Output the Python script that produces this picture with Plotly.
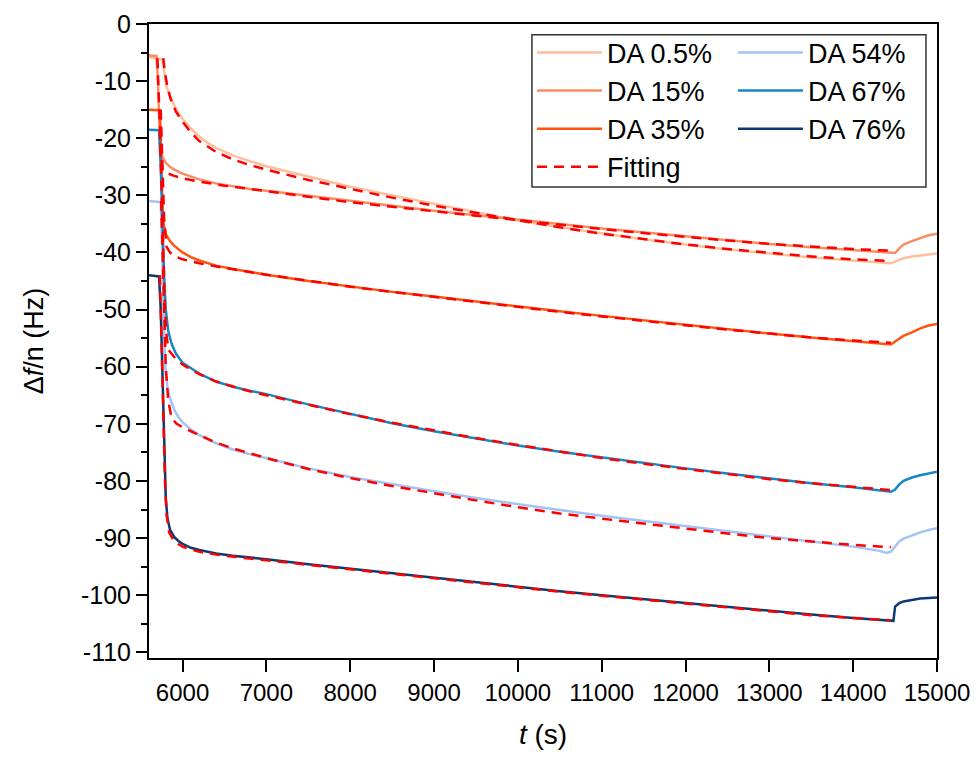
import plotly.graph_objects as go

# ---------------- data ----------------
t_05 = [5600, 5700, 5760, 5775, 5790, 5810, 5850, 5900, 5950, 6000, 6100, 6200, 6300, 6400, 6600, 6800,
        7000, 7500, 8000, 8500, 9000, 9500, 10000, 10500, 11000, 11500, 12000, 12500, 13000, 13500,
        14000, 14300, 14450, 14500, 14600, 14700, 14800, 15000]
y_05 = [-5.8, -6.0, -6.2, -7.5, -9.5, -11.0, -12.8, -14.3, -15.6, -16.6, -18.3, -19.7, -20.8, -21.7, -23.0, -24.0,
        -24.9, -26.7, -28.5, -30.0, -31.5, -33.0, -34.4, -35.6, -36.7, -37.7, -38.6, -39.5, -40.2, -40.9,
        -41.4, -41.7, -41.9, -41.6, -41.0, -40.7, -40.5, -40.2]

t_15 = [5600, 5690, 5700, 5710, 5720, 5735, 5760, 5800, 5850, 5900, 6000, 6200, 6400, 6600, 6800, 7000,
        7500, 8000, 8500, 9000, 9500, 10000, 10500, 11000, 11500, 12000, 12500, 13000, 13500, 14000,
        14300, 14500, 14550, 14600, 14700, 14800, 14900, 15000]
y_15 = [-5.5, -5.6, -8.0, -13.0, -18.0, -21.5, -23.3, -24.3, -25.0, -25.5, -26.2, -27.2, -27.9, -28.4, -28.9, -29.2,
        -30.1, -30.9, -31.8, -32.7, -33.5, -34.2, -35.0, -35.8, -36.5, -37.2, -37.9, -38.5, -39.1, -39.6,
        -39.9, -40.1, -39.3, -38.6, -38.0, -37.5, -37.0, -36.7]

t_35 = [5600, 5730, 5740, 5750, 5760, 5775, 5800, 5850, 5900, 6000, 6100, 6200, 6400, 6600, 6800, 7000,
        7500, 8000, 8500, 9000, 9500, 10000, 10500, 11000, 11500, 12000, 12500, 13000, 13500, 14000,
        14300, 14450, 14500, 14600, 14700, 14800, 14900, 15000]
y_35 = [-15.0, -15.1, -20.0, -27.0, -32.0, -35.0, -36.8, -38.0, -38.8, -40.0, -40.8, -41.4, -42.3, -42.9, -43.4, -43.9,
        -45.0, -46.0, -46.9, -47.7, -48.6, -49.5, -50.3, -51.1, -51.9, -52.7, -53.5, -54.2, -54.9, -55.5,
        -55.9, -56.1, -55.6, -54.6, -54.0, -53.3, -52.8, -52.5]

t_54 = [5600, 5740, 5755, 5770, 5785, 5800, 5820, 5850, 5900, 5950, 6000, 6100, 6200, 6400, 6600, 6800,
        7000, 7500, 8000, 8500, 9000, 9500, 10000, 10500, 11000, 11500, 12000, 12500, 13000, 13500,
        14000, 14300, 14400, 14450, 14500, 14550, 14600, 14700, 14800, 14900, 15000]
y_54 = [-31.0, -31.2, -38.0, -48.0, -57.0, -61.0, -63.5, -65.5, -67.5, -68.8, -69.7, -71.0, -72.0, -73.4, -74.5, -75.3,
        -76.0, -77.8, -79.3, -80.6, -81.8, -83.0, -84.1, -85.1, -86.1, -87.0, -87.9, -88.8, -89.7, -90.6,
        -91.5, -92.2, -92.6, -92.4, -91.5, -90.6, -90.1, -89.5, -89.0, -88.6, -88.3]

t_67 = [5600, 5720, 5740, 5760, 5780, 5800, 5830, 5870, 5920, 6000, 6100, 6200, 6400, 6600, 6800, 7000,
        7500, 8000, 8500, 9000, 9500, 10000, 10500, 11000, 11500, 12000, 12500, 13000, 13500, 14000,
        14300, 14450, 14500, 14550, 14600, 14700, 14800, 14900, 15000]
y_67 = [-18.5, -18.6, -25.0, -35.0, -44.0, -50.0, -53.8, -56.0, -57.7, -59.3, -60.3, -61.2, -62.6, -63.5, -64.2, -64.8,
        -66.6, -68.3, -69.9, -71.3, -72.6, -73.8, -74.9, -75.9, -76.9, -77.8, -78.7, -79.6, -80.4, -81.1,
        -81.6, -81.9, -81.5, -80.6, -80.0, -79.4, -79.0, -78.7, -78.4]

t_76 = [5600, 5720, 5740, 5760, 5780, 5800, 5820, 5850, 5900, 5950, 6000, 6100, 6200, 6400, 6600, 6800,
        7000, 7500, 8000, 8500, 9000, 9500, 10000, 10500, 11000, 11500, 12000, 12500, 13000, 13500,
        14000, 14300, 14480, 14500, 14550, 14600, 14700, 14800, 14900, 15000]
y_76 = [-44.0, -44.2, -50.0, -62.0, -75.0, -83.0, -86.5, -88.5, -89.8, -90.5, -91.0, -91.7, -92.1, -92.7, -93.1, -93.4,
        -93.7, -94.6, -95.4, -96.2, -97.0, -97.8, -98.5, -99.3, -100.0, -100.7, -101.4, -102.1, -102.8, -103.4,
        -104.0, -104.3, -104.5, -102.0, -101.4, -101.1, -100.8, -100.6, -100.5, -100.4]

# fitting curves
tf_05 = [5770, 5790, 5820, 5860, 5920, 6000, 6100, 6200, 6400, 6600, 6800, 7000, 7500, 8000, 8500, 9000,
         9500, 10000, 10500, 11000, 11500, 12000, 12500, 13000, 13500, 14000, 14450]
yf_05 = [-6.0, -8.5, -11.0, -13.2, -15.3, -17.1, -19.0, -20.5, -22.4, -23.7, -24.7, -25.5, -27.3, -28.9, -30.4, -31.8,
         -33.1, -34.4, -35.6, -36.7, -37.7, -38.6, -39.4, -40.1, -40.7, -41.2, -41.5]

tf_15 = [5700, 5720, 5740, 5760, 5800, 5850, 5900, 6000, 6200, 6500, 7000, 7500, 8000, 8500, 9000, 9500,
         10000, 10500, 11000, 11500, 12000, 12500, 13000, 13500, 14000, 14450]
yf_15 = [-6.0, -14.0, -22.0, -25.5, -26.0, -26.3, -26.6, -27.0, -27.6, -28.3, -29.3, -30.3, -31.2, -32.0, -32.8, -33.6,
         -34.4, -35.2, -35.9, -36.6, -37.3, -37.9, -38.5, -39.0, -39.4, -39.7]

tf_35 = [5740, 5760, 5780, 5810, 5850, 5900, 6000, 6200, 6500, 7000, 7500, 8000, 8500, 9000, 9500, 10000,
         10500, 11000, 11500, 12000, 12500, 13000, 13500, 14000, 14450]
yf_35 = [-15.0, -25.0, -34.0, -39.0, -40.0, -40.6, -41.2, -41.9, -42.7, -43.9, -45.0, -46.0, -46.9, -47.8, -48.7, -49.6,
         -50.4, -51.2, -52.0, -52.8, -53.5, -54.2, -54.9, -55.4, -55.8]

tf_54 = [5745, 5760, 5780, 5800, 5830, 5870, 5930, 6000, 6100, 6200, 6400, 6600, 6800, 7000, 7500, 8000,
         8500, 9000, 9500, 10000, 10500, 11000, 11500, 12000, 12500, 13000, 13500, 14000, 14450]
yf_54 = [-31.0, -40.0, -52.0, -60.0, -66.0, -69.0, -70.0, -70.6, -71.3, -72.0, -73.3, -74.3, -75.2, -76.0, -77.9, -79.5,
         -80.9, -82.2, -83.4, -84.6, -85.7, -86.6, -87.5, -88.3, -89.2, -90.0, -90.6, -91.2, -91.6]

tf_67 = [5730, 5750, 5770, 5790, 5810, 5830, 5900, 6000, 6100, 6200, 6400, 6600, 6800, 7000, 7500, 8000,
         8500, 9000, 9500, 10000, 10500, 11000, 11500, 12000, 12500, 13000, 13500, 14000, 14450]
yf_67 = [-18.5, -30.0, -42.0, -50.0, -54.5, -57.0, -58.3, -59.6, -60.5, -61.3, -62.6, -63.5, -64.3, -65.0, -66.7, -68.3,
         -69.8, -71.2, -72.5, -73.7, -74.9, -76.0, -77.0, -77.9, -78.8, -79.7, -80.4, -81.1, -81.6]

tf_76 = [5730, 5750, 5770, 5790, 5810, 5840, 5900, 6000, 6100, 6200, 6400, 6600, 6800, 7000, 7500, 8000,
         8500, 9000, 9500, 10000, 10500, 11000, 11500, 12000, 12500, 13000, 13500, 14000, 14450]
yf_76 = [-44.0, -55.0, -68.0, -80.0, -86.0, -89.0, -90.6, -91.5, -92.0, -92.4, -92.9, -93.3, -93.6, -93.9, -94.7, -95.5,
         -96.3, -97.1, -97.9, -98.7, -99.4, -100.1, -100.8, -101.5, -102.2, -102.9, -103.5, -104.0, -104.4]

x_ticks = [6000, 7000, 8000, 9000, 10000, 11000, 12000, 13000, 14000, 15000]
x_ticktext = ["6000", "7000", "8000", "9000", "10000", "11000", "12000", "13000", "14000", "15000"]
y_ticks = [0, -10, -20, -30, -40, -50, -60, -70, -80, -90, -100, -110]
y_ticktext = ["0", "-10", "-20", "-30", "-40", "-50", "-60", "-70", "-80", "-90", "-100", "-110"]

series = [
    ("DA 0.5%", t_05, y_05, "#FDBF9D", "legend"),
    ("DA 15%", t_15, y_15, "#FA8C64", "legend"),
    ("DA 35%", t_35, y_35, "#FF5312", "legend"),
    ("DA 54%", t_54, y_54, "#A3C3F5", "legend2"),
    ("DA 67%", t_67, y_67, "#1886C6", "legend2"),
    ("DA 76%", t_76, y_76, "#0B3A72", "legend2"),
]
fits = [(tf_05, yf_05), (tf_15, yf_15), (tf_35, yf_35), (tf_54, yf_54), (tf_67, yf_67), (tf_76, yf_76)]

FONT = "Liberation Sans, Arial, sans-serif"

fig = go.Figure()
for name, t, y, c, lg in series:
    fig.add_trace(go.Scatter(x=t, y=y, mode="lines", name=name, legend=lg,
                             line=dict(color=c, width=2.5)))
for i, (t, y) in enumerate(fits):
    fig.add_trace(go.Scatter(x=t, y=y, mode="lines", name="Fitting", legend="legend",
                             legendgroup="fit", showlegend=(i == 0),
                             line=dict(color="#FF0000", width=2.5, dash="10px,7px")))

leg_common = dict(bgcolor="rgba(0,0,0,0)", borderwidth=0, font=dict(family=FONT, size=27, color="black"),
                  itemwidth=65, tracegroupgap=0, yanchor="top", xanchor="left", orientation="v")

fig.update_layout(
    width=977, height=758,
    margin=dict(l=149, r=40, t=24, b=100, autoexpand=False),
    plot_bgcolor="white", paper_bgcolor="white",
    font=dict(family=FONT, size=24, color="black"),
    showlegend=True,
    legend=dict(x=0.486, y=0.993, **leg_common),
    legend2=dict(x=0.741, y=0.993, **leg_common),
    shapes=[dict(type="rect", xref="paper", yref="paper", x0=0.486, x1=0.986, y0=0.743, y1=0.983,
                 line=dict(color="#333333", width=1.5), fillcolor="rgba(0,0,0,0)", layer="above")],
    xaxis=dict(range=[5600, 15000], tickvals=x_ticks, ticktext=x_ticktext, ticks="outside", ticklen=12,
               tickwidth=2, tickcolor="black", showline=True, linecolor="black", linewidth=2, mirror=True,
               showgrid=False, zeroline=False, automargin=False, tickfont=dict(family=FONT, size=24),
               title=dict(text="<i>t</i> (s)", font=dict(family=FONT, size=28), standoff=20)),
    yaxis=dict(range=[-111, 0], tickvals=y_ticks, ticktext=y_ticktext, ticks="outside", ticklen=11,
               tickwidth=2, tickcolor="black", showline=True, linecolor="black", linewidth=2, mirror=True,
               showgrid=False, zeroline=False, automargin=False, tickfont=dict(family=FONT, size=25),
               minor=dict(dtick=5, ticks="outside", ticklen=6, tickwidth=2, tickcolor="black", showgrid=False),
               title=dict(text="Δ<i>f</i>/n (Hz)", font=dict(family=FONT, size=27), standoff=30)),
)

fig.write_html("out.html")
